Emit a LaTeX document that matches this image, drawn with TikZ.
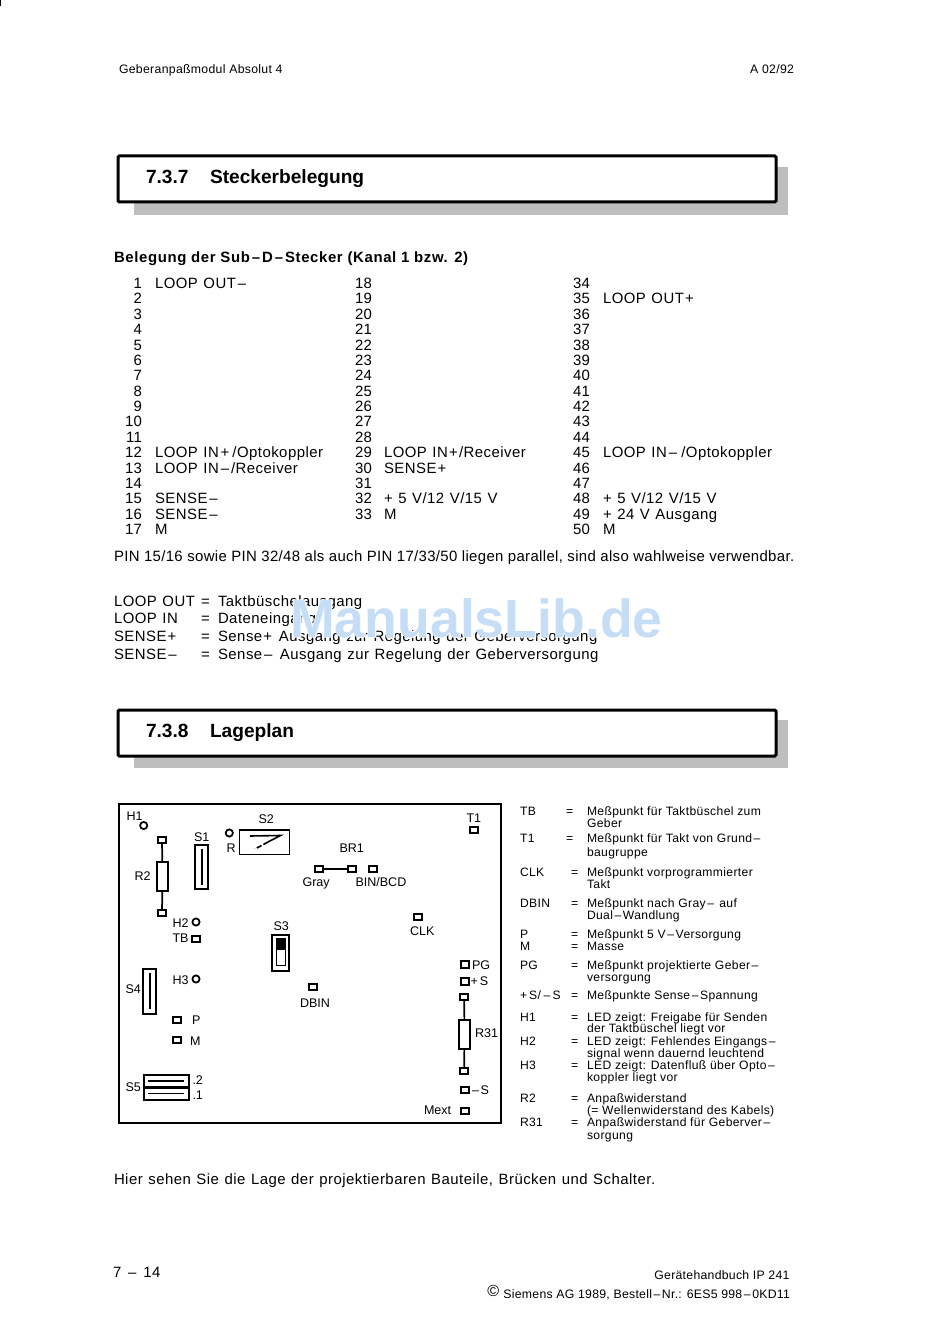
\documentclass[tikz,border=0pt]{standalone}
\usepackage{fontspec}
\setmainfont{Liberation Sans}
\newfontfamily\bodyf[LetterSpace=3.2,WordSpace=1.2]{Liberation Sans}
\newfontfamily\numf[LetterSpace=2]{Liberation Sans}
\newfontfamily\pinf[LetterSpace=2.3]{Liberation Sans}
\newfontfamily\legf[LetterSpace=3]{Liberation Sans}
\newfontfamily\smallf[LetterSpace=2.5]{Liberation Sans}
\newfontfamily\footf[LetterSpace=2.2]{Liberation Sans}
\newfontfamily\boldf[LetterSpace=4.2]{Liberation Sans Bold}
\newfontfamily\haloF[FakeBold=2.5]{Liberation Sans Bold}
\newfontfamily\markF{Liberation Sans Bold}
\definecolor{shadowgray}{HTML}{BEBEBE}
\definecolor{wm}{HTML}{C6DDF6}
\newcommand{\Dd}{\kern0.13em–\kern0.13em}
\newcommand{\Pl}{\kern0.08em+\kern0.08em}
\newcounter{tn}
% text helpers: x, baseline y, text
\newcommand{\Tb}[3]{\stepcounter{tn}\node[body,anchor=base west] (t\thetn) at (#1,#2) {#3};}
\newcommand{\Tn}[3]{\stepcounter{tn}\node[numb,anchor=base east] (t\thetn) at (#1,#2) {#3};}
\newcommand{\Ts}[3]{\stepcounter{tn}\node[legend,anchor=base west] (t\thetn) at (#1,#2) {#3};}
\newcommand{\Tp}[3]{\stepcounter{tn}\node[part,anchor=base west] (t\thetn) at (#1,#2) {#3};}
\newcommand{\Leg}[4]{\Ts{520}{#1}{#2}\Ts{#3}{#1}{=}\Ts{587}{#1}{#4}}
\newcommand{\Row}[7]{%
 \Tn{142}{#1}{#2}\Tb{155}{#1}{#3}\Tn{372}{#1}{#4}\Tb{384}{#1}{#5}\Tn{590}{#1}{#6}\Tb{603}{#1}{#7}}
\tikzset{
 x=0.75pt,y=-0.75pt,
 body/.style={inner sep=0pt,outer sep=0pt,font=\fontsize{11.2pt}{13pt}\bodyf},
 numb/.style={inner sep=0pt,outer sep=0pt,font=\fontsize{11.2pt}{13pt}\numf},
 pinline/.style={inner sep=0pt,outer sep=0pt,font=\fontsize{11.2pt}{13pt}\pinf},
 legend/.style={inner sep=0pt,outer sep=0pt,font=\fontsize{9.1pt}{10pt}\legf},
 part/.style={inner sep=0pt,outer sep=0pt,font=\fontsize{9.4pt}{10pt}\selectfont},
 small/.style={inner sep=0pt,outer sep=0pt,font=\fontsize{9.2pt}{10pt}\smallf},
 foot/.style={inner sep=0pt,outer sep=0pt,font=\fontsize{9.2pt}{10pt}\footf},
 title/.style={inner sep=0pt,outer sep=0pt,font=\fontsize{14.35pt}{16pt}\selectfont\bfseries},
 subhead/.style={inner sep=0pt,outer sep=0pt,font=\fontsize{11.2pt}{13pt}\boldf},
 heading/.style={draw=black,line width=2.25pt,fill=white,rounded corners=1pt,inner sep=0pt,outer sep=0pt,anchor=north west},
 shade/.style={fill=shadowgray,draw=none,inner sep=0pt,outer sep=0pt,anchor=north west},
 pad/.style={draw=black,line width=1.5pt,fill=white,minimum width=6pt,minimum height=4.6pt,inner sep=0pt,outer sep=0pt},
 led/.style={draw=black,line width=1.3pt,fill=white,circle,minimum size=5.4pt,inner sep=0pt,outer sep=0pt},
 res/.style={draw=black,line width=1.2pt,fill=white,minimum width=8.4pt,minimum height=21.6pt,inner sep=0pt,outer sep=0pt},
 wire/.style={draw=black,line width=1.3pt},
 swbox/.style={draw=black,line width=1.3pt,fill=white,inner sep=0pt,outer sep=0pt,anchor=north west},
 swline/.style={draw=black,line width=1.2pt},
}
\begin{document}
\begin{tikzpicture}
\useasboundingbox[fill=white] (0,0) rectangle (950,1344);
\fill[black] (0,0) rectangle (1,6);
% header
\stepcounter{tn}\node[small,anchor=base west] (h1) at (119,73.5) {Geberanpaßmodul Absolut 4};
\stepcounter{tn}\node[small,anchor=base east] (h2) at (794,73.5) {A 02/92};
% section 1
\node[shade,minimum width=490.5pt,minimum height=36pt] (s1) at (134,167) {};
\node[heading,minimum width=493.5pt,minimum height=34.5pt] (b1) at (118,156) {};
\node[title,anchor=base west] (n1) at (146,184) {7.3.7};
\node[title,anchor=base west] (n1b) at (210,184) {Steckerbelegung};
\node[subhead,anchor=base west] (sh) at (114,262.5) {Belegung der Sub\Dd D\Dd Stecker (Kanal 1 bzw. 2)};
% pin table
\begin{scope}[yshift=-0.4pt]
\Row{288}{1}{LOOP OUT\Dd}{18}{}{34}{}
\Row{303.4}{2}{}{19}{}{35}{LOOP OUT\Pl}
\Row{318.8}{3}{}{20}{}{36}{}
\Row{334.1}{4}{}{21}{}{37}{}
\Row{349.5}{5}{}{22}{}{38}{}
\Row{364.9}{6}{}{23}{}{39}{}
\Row{380.3}{7}{}{24}{}{40}{}
\Row{395.6}{8}{}{25}{}{41}{}
\Row{411}{9}{}{26}{}{42}{}
\Row{426.4}{10}{}{27}{}{43}{}
\Row{441.8}{11}{}{28}{}{44}{}
\Row{457.1}{12}{LOOP IN\kern0.12em+\kern0.2em/Optokoppler}{29}{LOOP IN\Pl/Receiver}{45}{LOOP IN\Dd\kern0.15em/Optokoppler}
\Row{472.5}{13}{LOOP IN\Dd/Receiver}{30}{SENSE\Pl}{46}{}
\Row{487.9}{14}{}{31}{}{47}{}
\Row{503.3}{15}{SENSE\Dd}{32}{+ 5 V/12 V/15 V}{48}{+ 5 V/12 V/15 V}
\Row{518.6}{16}{SENSE\Dd}{33}{M}{49}{+ 24 V Ausgang}
\Row{534}{17}{M}{}{}{50}{M}
\end{scope}
\stepcounter{tn}\node[pinline,anchor=base west] (pinl) at (114,561) {PIN 15/16 sowie PIN 32/48 als auch PIN 17/33/50 liegen parallel, sind also wahlweise verwendbar.};
% definitions
\Tb{114}{606}{LOOP OUT}\Tb{201}{606}{=}\Tb{218}{606}{Taktbüschelausgang}
\Tb{114}{623}{LOOP IN}\Tb{201}{623}{=}\Tb{218}{623}{Dateneingang}
\Tb{114}{641}{SENSE\Pl}\Tb{201}{641}{=}\Tb{218}{641}{Sense\Pl{} Ausgang zur Regelung der Geberversorgung}
\Tb{114}{659}{SENSE\Dd}\Tb{201}{659}{=}\Tb{218}{659}{Sense\Dd{} Ausgang zur Regelung der Geberversorgung}
% watermark
\node[inner sep=0pt,anchor=base west] (wmk) at (290,637) {\fontsize{40.2pt}{42pt}\selectfont\rlap{\haloF\color{white}ManualsLib.de}\markF\color{wm}ManualsLib.de};
% section 2
\node[shade,minimum width=490.5pt,minimum height=36pt] (s2) at (134,720) {};
\node[heading,minimum width=493.5pt,minimum height=34.5pt] (b2) at (118,710) {};
\node[title,anchor=base west] (n2) at (146,737) {7.3.8};
\node[title,anchor=base west] (n2b) at (210,737) {Lageplan};
% plan frame
\node[draw=black,line width=1.6pt,anchor=north west,minimum width=286.5pt,minimum height=239.25pt,inner sep=0pt,outer sep=0pt] (plan) at (119,804) {};
% R2
\node[pad,minimum width=5.4pt,minimum height=4pt] (r2a) at (162,840) {};
\node[pad] (r2b) at (162,913) {};
\node[res] (r2) at (162.5,876.3) {};
\draw[wire] (r2a) -- (r2); \draw[wire] (r2) -- (r2b);
\Tp{134.5}{880}{R2}
% LEDs
\node[led] (h1l) at (143.7,825.5) {}; \Tp{126.5}{820.5}{H1}
\node[led] (rl) at (229.3,833) {}; \Tp{226.5}{852}{R}
\node[led] (h2l) at (196,922) {}; \Tp{172.5}{927}{H2}
\node[led] (h3l) at (196,979) {}; \Tp{172.5}{984}{H3}
% S1
\node[swbox,minimum width=10pt,minimum height=33pt] (S1) at (195,845) {};
\coordinate (s1a) at (201.7,849); \coordinate (s1b) at (201.7,885);
\draw[swline] (s1a) -- (s1b);
\Tp{194}{841}{S1}
% S2
\node[swbox,minimum width=37.5pt,minimum height=18.5pt] (S2) at (239.5,829.7) {};
\coordinate (s2a) at (250,836); \coordinate (s2b) at (280.5,835.5);
\coordinate (s2c) at (268,842); \coordinate (s2d) at (255,849);
\draw[swline] (s2a) -- (s2b) -- (s2c);
\draw[swline,dash pattern=on 4pt off 1.5pt] (s2c) -- (s2d);
\Tp{258.5}{823}{S2}
% TB
\node[pad] (tb) at (196,938.7) {}; \Tp{172.5}{942}{TB}
% S3
\node[swbox,minimum width=13pt,minimum height=27pt] (S3) at (272,935) {};
\node[draw=black,line width=1pt,fill=white,anchor=north west,minimum width=7pt,minimum height=20pt,inner sep=0pt,outer sep=0pt] (S3i) at (276.2,939) {};
\fill[black] (276.2,939) rectangle (285.3,950);
\Tp{273.5}{930}{S3}
% BR1
\node[pad] (g1) at (318.5,869) {};
\node[pad] (g2) at (351.7,869) {};
\node[pad] (g3) at (373,869) {};
\draw[wire] (g1) -- (g2);
\Tp{339.5}{852}{BR1}
\Tp{302.5}{886}{Gray}
\Tp{355.5}{886}{BIN/BCD}
% T1, CLK, DBIN
\node[pad] (t1) at (473.7,830) {}; \Tp{466.5}{822.5}{T1}
\node[pad] (clk) at (418.3,916.7) {}; \Tp{410}{935}{CLK}
\node[pad] (dbin) at (313.3,987.3) {}; \Tp{300}{1007}{DBIN}
% right column
\node[pad] (pg) at (464.5,964.5) {}; \Tp{472}{969}{PG}
\node[pad] (ps) at (464.5,981.5) {}; \Tp{470.5}{985.5}{+\,S}
\node[pad] (r31a) at (464.2,997) {};
\node[pad] (r31b) at (464.2,1071) {};
\node[res] (r31) at (464.5,1034.3) {};
\draw[wire] (r31a) -- (r31); \draw[wire] (r31) -- (r31b);
\Tp{475}{1037}{R31}
\node[pad] (ms) at (464.5,1089.7) {}; \Tp{470.5}{1094}{\Dd S}
\node[pad] (mext) at (465,1111.3) {}; \Tp{424}{1114}{Mext}
% S4
\node[swbox,minimum width=10pt,minimum height=34pt] (S4) at (142.7,968.7) {};
\coordinate (s4a) at (149.7,972.7); \coordinate (s4b) at (149.7,1009.3);
\draw[swline] (s4a) -- (s4b);
\Tp{125.5}{993}{S4}
% P, M
\node[pad] (p) at (177,1019.7) {}; \Tp{192}{1024}{P}
\node[pad] (m) at (177,1040.3) {}; \Tp{190}{1045}{M}
% S5
\node[swbox,minimum width=33.5pt,minimum height=19pt] (S5) at (144,1075) {};
\coordinate (s5l) at (144,1087.5); \coordinate (s5r) at (188.7,1087.5);
\draw[draw=black,line width=1.7pt] (s5l) -- (s5r);
\coordinate (s5a) at (148,1081); \coordinate (s5b) at (183.5,1081);
\coordinate (s5c) at (148,1093.5); \coordinate (s5d) at (183.5,1093.5);
\draw[swline] (s5a) -- (s5b); \draw[swline] (s5c) -- (s5d);
\Tp{125.5}{1091}{S5}
\Tp{192.5}{1084}{.2}
\Tp{192.5}{1099.5}{.1}
% legend
\Leg{815}{TB}{566}{Meßpunkt für Taktbüschel zum}
\Ts{587}{827}{Geber}
\Leg{842}{T1}{566}{Meßpunkt für Takt von Grund\Dd}
\Ts{587}{856.5}{baugruppe}
\Leg{876}{CLK}{571}{Meßpunkt vorprogrammierter}
\Ts{587}{888.5}{Takt}
\Leg{907}{DBIN}{571}{Meßpunkt nach Gray\Dd{} auf}
\Ts{587}{919}{Dual\Dd Wandlung}
\Leg{938}{P}{571}{Meßpunkt 5 V\Dd Versorgung}
\Leg{950}{M}{571}{Masse}
\Leg{969}{PG}{571}{Meßpunkt projektierte Geber\Dd}
\Ts{587}{981}{versorgung}
\Leg{999}{+\,S/\kern0.1em\Dd\kern0.05em S}{571}{Meßpunkte Sense\Dd Spannung}
\Leg{1021}{H1}{571}{LED zeigt: Freigabe für Senden}
\Ts{587}{1032.5}{der Taktbüschel liegt vor}
\Leg{1045}{H2}{571}{LED zeigt: Fehlendes Eingangs\Dd}
\Ts{587}{1057}{signal wenn dauernd leuchtend}
\Leg{1069.5}{H3}{571}{LED zeigt: Datenfluß über Opto\Dd}
\Ts{587}{1081.5}{koppler liegt vor}
\Leg{1102}{R2}{571}{Anpaßwiderstand}
\Ts{587}{1114}{(= Wellenwiderstand des Kabels)}
\Leg{1126}{R31}{571}{Anpaßwiderstand für Geberver\Dd}
\Ts{587}{1139}{sorgung}
% footer
\Tb{114}{1184}{Hier sehen Sie die Lage der projektierbaren Bauteile, Brücken und Schalter.}
\stepcounter{tn}\node[numb,anchor=base west] (pg1) at (113,1277) {7 \,–\, 14};
\stepcounter{tn}\node[foot,anchor=base east] (f1) at (789.5,1279) {Gerätehandbuch IP 241};
\stepcounter{tn}\node[foot,anchor=base east] (f2) at (790,1298) {Siemens AG 1989, Bestell\Dd Nr.: 6ES5 998\Dd 0KD11};
\node[inner sep=0pt,anchor=base west,font=\fontsize{12pt}{12pt}\selectfont] (cp) at (487,1296) {©};
\end{tikzpicture}
\end{document}
